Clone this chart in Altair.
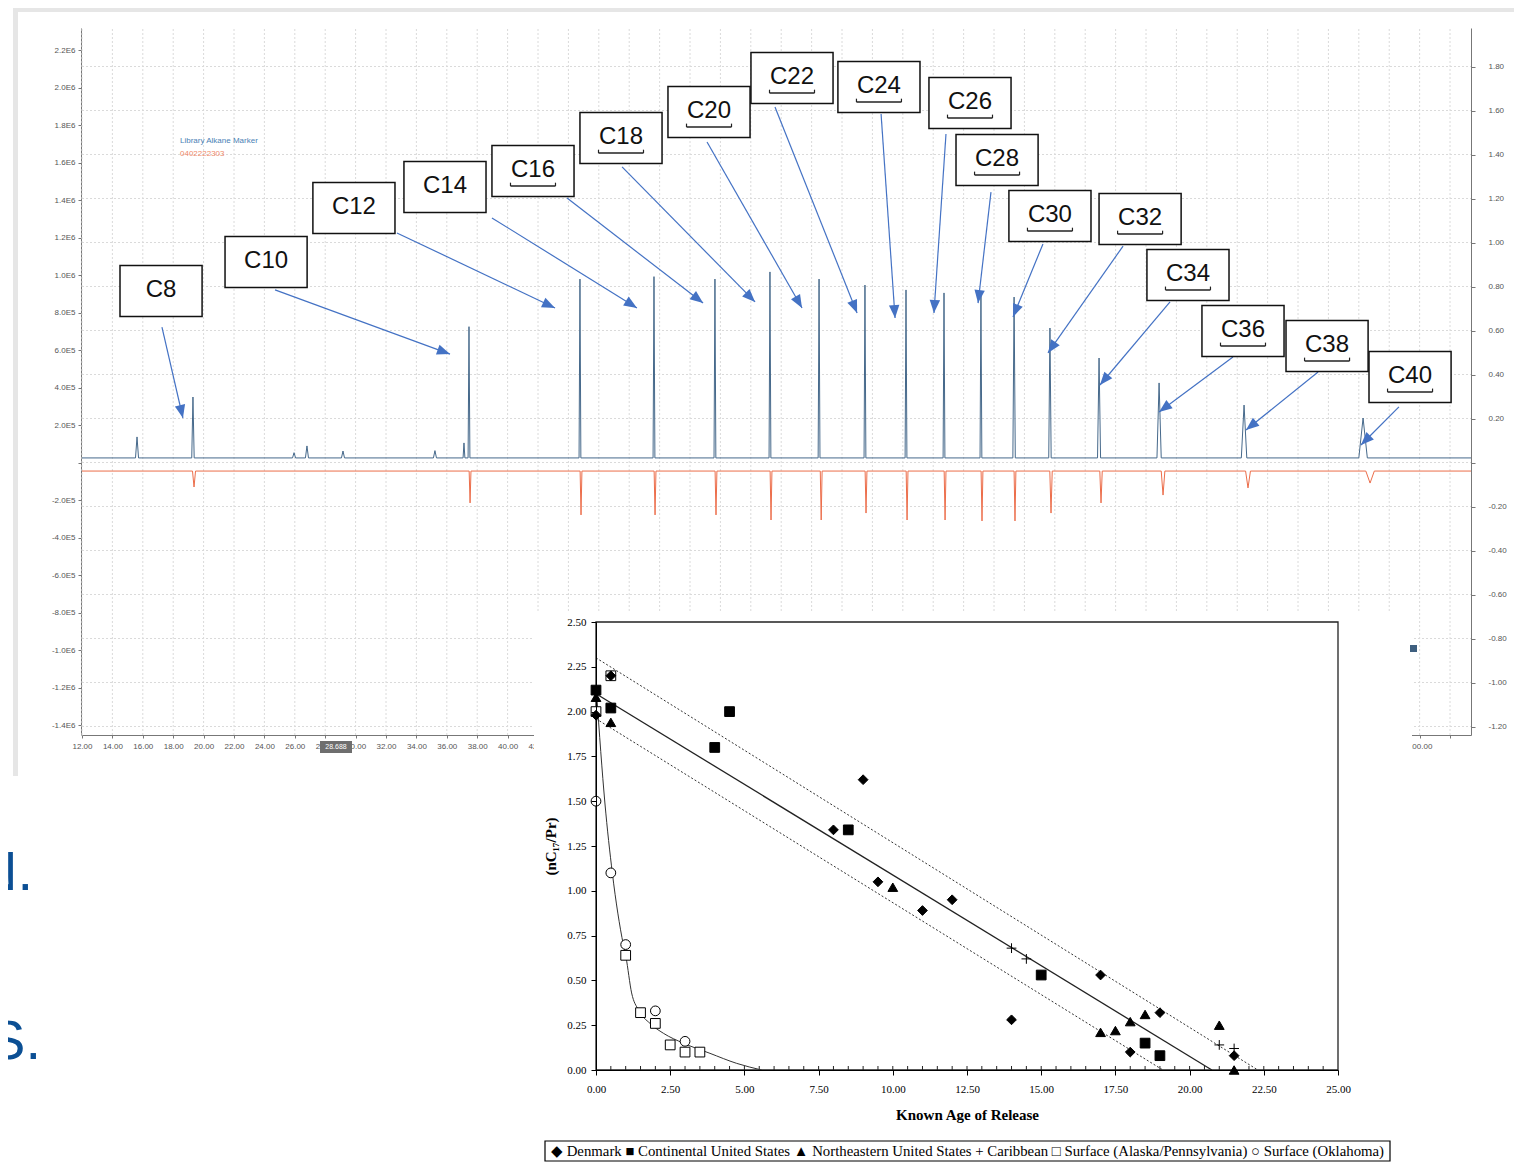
import json
import altair as alt
import pandas as pd

W, H = 1506, 1154

# ---------------- chromatogram (top panel) ----------------
time_ticks = list(range(12, 104, 2))
time_labels = [f"{t:.2f}" if t <= 100 else "" for t in time_ticks]

abund_ticks = [2200000, 2000000, 1800000, 1600000, 1400000, 1200000, 1000000, 800000, 600000,
               400000, 200000, 0, -200000, -400000, -600000, -800000, -1000000, -1200000, -1400000]
abund_labels = ["2.2E6", "2.0E6", "1.8E6", "1.6E6", "1.4E6", "1.2E6", "1.0E6", "8.0E5", "6.0E5",
                "4.0E5", "2.0E5", "", "-2.0E5", "-4.0E5", "-6.0E5", "-8.0E5", "-1.0E6", "-1.2E6", "-1.4E6"]

rel_ticks = [1.8, 1.6, 1.4, 1.2, 1.0, 0.8, 0.6, 0.4, 0.2, 0.0, -0.2, -0.4, -0.6, -0.8, -1.0, -1.2]
rel_labels = ["1.80", "1.60", "1.40", "1.20", "1.00", "0.80", "0.60", "0.40", "0.20", "",
              "-0.20", "-0.40", "-0.60", "-0.80", "-1.00", "-1.20"]

# blue trace (library alkane marker): retention time (min), peak top abundance
blue_t = [15.62, 19.30, 25.95, 26.80, 29.17, 35.22, 37.13, 37.46, 44.76, 49.63, 53.64, 57.26,
          60.49, 63.51, 66.21, 68.71, 71.14, 73.32, 75.68, 78.91, 82.86, 88.45, 96.28]
blue_top = [139e3, 352e3, 55e3, 91e3, 64e3, 66e3, 107e3, 727e3, 981e3, 994e3, 981e3, 1019e3,
            981e3, 949e3, 923e3, 907e3, 912e3, 885e3, 720e3, 560e3, 427e3, 309e3, 240e3]
blue_hw = [0.10, 0.08, 0.10, 0.10, 0.10, 0.10, 0.06, 0.06, 0.06, 0.06, 0.06, 0.06,
           0.06, 0.06, 0.06, 0.06, 0.06, 0.08, 0.08, 0.10, 0.14, 0.18, 0.28]
blue_base = 27e3

# red trace (sample, plotted inverted)
red_t = [19.37, 37.53, 44.83, 49.70, 53.71, 57.33, 60.63, 63.58, 66.28, 68.78, 71.21, 73.38,
         75.75, 79.04, 83.12, 88.71, 96.74]
red_bottom = [-128e3, -213e3, -277e3, -277e3, -277e3, -304e3, -304e3, -267e3, -304e3, -304e3,
              -309e3, -309e3, -267e3, -213e3, -171e3, -133e3, -107e3]
red_hw = [0.10, 0.06, 0.06, 0.06, 0.06, 0.06, 0.06, 0.06, 0.06, 0.06, 0.06, 0.06,
          0.08, 0.08, 0.12, 0.16, 0.28]
red_base = -43e3

# peak annotations (data units: minutes, abundance)
ann_label = ["C8", "C10", "C12", "C14", "C16", "C18", "C20", "C22", "C24", "C26", "C28",
             "C30", "C32", "C34", "C36", "C38", "C40"]
ann_box_t = [17.20, 24.11, 29.89, 35.88, 41.67, 47.46, 53.25, 58.71, 64.43, 70.42, 72.20,
             75.68, 81.61, 84.76, 88.38, 93.91, 99.37]
ann_box_i = [917e3, 1072e3, 1360e3, 1472e3, 1557e3, 1733e3, 1872e3, 2053e3, 2005e3, 1920e3,
             1616e3, 1317e3, 1301e3, 1003e3, 704e3, 624e3, 459e3]
ann_from_t = [17.26, 24.70, 32.72, 38.97, 43.91, 47.53, 53.12, 57.59, 64.57, 68.84, 71.80,
              75.22, 80.49, 83.58, 87.72, 93.32, 98.64]
ann_from_i = [725e3, 923e3, 1227e3, 1307e3, 1413e3, 1579e3, 1712e3, 1899e3, 1861e3, 1755e3,
              1445e3, 1168e3, 1157e3, 859e3, 565e3, 485e3, 299e3]
ann_to_t = [18.64, 36.21, 43.12, 48.51, 52.86, 56.28, 59.37, 62.99, 65.49, 68.05, 70.95,
            73.25, 75.55, 78.97, 82.86, 88.58, 96.14]
ann_to_i = [240e3, 581e3, 827e3, 827e3, 853e3, 859e3, 827e3, 800e3, 773e3, 800e3, 853e3,
            779e3, 587e3, 416e3, 272e3, 176e3, 96e3]
ann_angle = [167, 110, 115, 122, 128, 135, 150, 158, 176, 184, 187, 202, 215, 220, 233, 231, 225]
ann_underline = [0, 0, 0, 0, 1, 1, 1, 1, 1, 1, 1, 1, 1, 1, 1, 1, 1]

# ---------------- scatter (inset) ----------------
sx_ticks = [0, 2.5, 5, 7.5, 10, 12.5, 15, 17.5, 20, 22.5, 25]
sx_labels = ["0.00", "2.50", "5.00", "7.50", "10.00", "12.50", "15.00", "17.50", "20.00", "22.50", "25.00"]
sy_ticks = [0, 0.25, 0.5, 0.75, 1.0, 1.25, 1.5, 1.75, 2.0, 2.25, 2.5]
sy_labels = ["0.00", "0.25", "0.50", "0.75", "1.00", "1.25", "1.50", "1.75", "2.00", "2.25", "2.50"]
sx_minor = [v / 2 for v in range(1, 50)]

series_order = ["Denmark", "Continental United States", "Northeastern United States", "Caribbean",
                "Surface (Alaska/Pennsylvania)", "Surface (Oklahoma)"]
legend_symbols = ["◆", "■", "▲", "+", "□", "○"]
den_x = [0.0, 0.5, 8.0, 9.0, 9.5, 11.0, 12.0, 14.0, 17.0, 18.0, 19.0, 21.5]
den_y = [1.98, 2.20, 1.34, 1.62, 1.05, 0.89, 0.95, 0.28, 0.53, 0.10, 0.32, 0.08]
cus_x = [0.0, 0.5, 4.0, 4.5, 8.5, 15.0, 18.5, 19.0]
cus_y = [2.12, 2.02, 1.80, 2.00, 1.34, 0.53, 0.15, 0.08]
ne_x = [0.0, 0.5, 10.0, 17.0, 17.5, 18.0, 18.5, 21.0, 21.5]
ne_y = [2.08, 1.94, 1.02, 0.21, 0.22, 0.27, 0.31, 0.25, 0.00]
car_x = [14.0, 14.5, 21.0, 21.5]
car_y = [0.68, 0.62, 0.14, 0.12]
sak_x = [0.0, 0.5, 1.0, 1.5, 2.0, 2.5, 3.0, 3.5]
sak_y = [2.00, 2.20, 0.64, 0.32, 0.26, 0.14, 0.10, 0.10]
sok_x = [0.0, 0.5, 1.0, 2.0, 3.0]
sok_y = [1.50, 1.10, 0.70, 0.33, 0.16]

fit_x = [0.0, 20.75]
fit_y = [2.10, 0.0]
upper_x = [0.0, 22.3]
upper_y = [2.30, 0.0]
lower_x = [0.0, 19.1]
lower_y = [1.96, 0.0]
decay_x = [0.02, 0.30, 0.55, 0.92, 1.01, 1.20, 1.43, 1.82, 2.27, 2.94, 3.84, 4.74, 5.58]
decay_y = [2.10, 1.49, 1.10, 0.70, 0.63, 0.43, 0.335, 0.26, 0.205, 0.15, 0.093, 0.037, 0.0]

# ---------------- styling ----------------
ARROW = "#4472C4"
BLUE = "#46698b"
RED = "#ec6d4a"
GRID = "#dadada"
SANS = "Liberation Sans"
SERIF = "Liberation Serif"
shape_range = ["diamond", "square", "triangle-up", "M-1,0L1,0M0,-1L0,1", "square", "circle"]
fill_range = ["black", "black", "black", "black", "white", "white"]
HEAD = "M0,0L-0.8,2L0.8,2Z"


def lab_expr(vals, labs):
    return json.dumps(labs) + "[indexof(" + json.dumps(vals) + ", datum.value)]"


def lin(domain, rng):
    return alt.Scale(domain=domain, range=rng, nice=False, zero=False)


TX = lin([12, 103.38], [74, 1463])
TY = lin([-1450667, 2320000], [727, 20])
RY = lin([-1.2386, 1.975], [727, 20])
SX = lin([0, 25], [588, 1330])
SY = lin([0, 2.5], [1062, 614])

one = pd.DataFrame({"k": [0]})


def trace(ts, peaks, hws, base, t0, t1):
    pts = [(t0, base)]
    for t, p, hw in sorted(zip(ts, peaks, hws)):
        pts += [(t - hw, base), (t, p), (t + hw, base)]
    pts.append((t1, base))
    return pd.DataFrame(pts, columns=["t", "i"])


blue_df = trace(blue_t, blue_top, blue_hw, blue_base, 12.0, 103.38)
red_df = trace(red_t, red_bottom, red_hw, red_base, 12.0, 103.38)

ann_df = pd.DataFrame({
    "label": ann_label, "t": ann_box_t, "i": ann_box_i,
    "t0": ann_from_t, "i0": ann_from_i, "t1": ann_to_t, "i1": ann_to_i,
    "ang": ann_angle, "u": ann_underline,
})

frames = []
for name, xs, ys in [("Surface (Alaska/Pennsylvania)", sak_x, sak_y),
                     ("Surface (Oklahoma)", sok_x, sok_y),
                     ("Caribbean", car_x, car_y),
                     ("Northeastern United States", ne_x, ne_y),
                     ("Continental United States", cus_x, cus_y),
                     ("Denmark", den_x, den_y)]:
    frames.append(pd.DataFrame({"x": xs, "y": ys, "series": name}))
pts_df = pd.concat(frames, ignore_index=True)
pts_df["o"] = range(len(pts_df))

legend_text = " ".join(f"{s} {n}" for s, n in zip(legend_symbols, series_order))

chrom_axis_style = dict(grid=False, title=None, labelFont=SANS, labelFontSize=8, labelColor="#555",
                        domainColor="#777", tickColor="#777", labelOverlap=False, labelFlush=False)

# ---------------- layers ----------------
layers = []

# panel frame strips
layers.append(alt.Chart(one).mark_rect(color="#e6e6e6").encode(
    x=alt.value(5), x2=alt.value(W), y=alt.value(0), y2=alt.value(4)))
layers.append(alt.Chart(one).mark_rect(color="#e6e6e6").encode(
    x=alt.value(5), x2=alt.value(10), y=alt.value(0), y2=alt.value(768)))

# grid
layers.append(alt.Chart(pd.DataFrame({"t": time_ticks})).mark_rule(
    color=GRID, strokeDash=[2, 2], strokeWidth=1).encode(
    x=alt.X("t:Q", scale=TX, axis=None),
    y=alt.YDatum(-1450667, scale=TY, axis=None),
    y2=alt.Y2Datum(2320000)))
layers.append(alt.Chart(pd.DataFrame({"r": rel_ticks})).mark_rule(
    color=GRID, strokeDash=[2, 2], strokeWidth=1).encode(
    y=alt.Y("r:Q", scale=RY, axis=alt.Axis(orient="right", offset=-(W - 1463), values=rel_ticks,
                                            labelExpr=lab_expr(rel_ticks, rel_labels),
                                            tickSize=4, labelPadding=13, **chrom_axis_style)),
    x=alt.XDatum(12, scale=TX, axis=None),
    x2=alt.X2Datum(103.38)))

# traces
layers.append(alt.Chart(red_df).mark_line(color=RED, strokeWidth=1).encode(
    x=alt.X("t:Q", scale=TX, axis=None),
    y=alt.Y("i:Q", scale=TY, axis=None)))
layers.append(alt.Chart(blue_df).mark_line(color=BLUE, strokeWidth=1).encode(
    x=alt.X("t:Q", scale=TX, axis=alt.Axis(orient="bottom", offset=727 - H, values=time_ticks,
                                            labelExpr=lab_expr(time_ticks, time_labels),
                                            tickSize=3, labelPadding=4, **chrom_axis_style)),
    y=alt.Y("i:Q", scale=TY, axis=alt.Axis(orient="left", offset=-73, values=abund_ticks,
                                            labelExpr=lab_expr(abund_ticks, abund_labels),
                                            tickSize=3, labelPadding=3, **chrom_axis_style))))

# trace legend
layers.append(alt.Chart(one).mark_text(text="Library Alkane Marker", font=SANS, fontSize=8,
                                        color="#4a7fb5", align="left", baseline="middle").encode(
    x=alt.value(172), y=alt.value(133)))
layers.append(alt.Chart(one).mark_text(text="0402222303", font=SANS, fontSize=8,
                                        color="#f08a6a", align="left", baseline="middle").encode(
    x=alt.value(172), y=alt.value(146)))

# annotation arrows
layers.append(alt.Chart(ann_df).mark_rule(color=ARROW, strokeWidth=1.2).encode(
    x=alt.X("t0:Q", scale=TX, axis=None), y=alt.Y("i0:Q", scale=TY, axis=None),
    x2="t1:Q", y2="i1:Q"))
layers.append(alt.Chart(ann_df).mark_point(shape=HEAD, filled=True, color=ARROW, size=170,
                                            opacity=1, strokeWidth=0).encode(
    x=alt.X("t1:Q", scale=TX, axis=None), y=alt.Y("i1:Q", scale=TY, axis=None),
    angle=alt.Angle("ang:Q", scale=None)))
# boxes
layers.append(alt.Chart(ann_df).transform_calculate(
    bx0="datum.t - 2.7", bx1="datum.t + 2.7", by0="datum.i - 136000", by1="datum.i + 136000"
).mark_rect(fill="white", stroke="#111", strokeWidth=1.5).encode(
    x=alt.X("bx0:Q", scale=TX, axis=None), x2="bx1:Q",
    y=alt.Y("by0:Q", scale=TY, axis=None), y2="by1:Q"))
layers.append(alt.Chart(ann_df).mark_text(font=SANS, fontSize=24, color="#111", align="center",
                                           baseline="middle", dy=-1).encode(
    x=alt.X("t:Q", scale=TX, axis=None), y=alt.Y("i:Q", scale=TY, axis=None), text="label:N"))
# underlines
und = alt.Chart(ann_df).transform_filter("datum.u == 1").transform_calculate(
    ux0="datum.t - 1.48", ux1="datum.t + 1.48", uy="datum.i - 80000", uy2="datum.i - 62000")
layers.append(und.mark_rule(color="#222", strokeWidth=1.4).encode(
    x=alt.X("ux0:Q", scale=TX, axis=None), x2="ux1:Q",
    y=alt.Y("uy:Q", scale=TY, axis=None)))
layers.append(und.mark_rule(color="#222", strokeWidth=1.2).encode(
    x=alt.X("ux0:Q", scale=TX, axis=None),
    y=alt.Y("uy:Q", scale=TY, axis=None), y2="uy2:Q"))
layers.append(und.mark_rule(color="#222", strokeWidth=1.2).encode(
    x=alt.X("ux1:Q", scale=TX, axis=None),
    y=alt.Y("uy:Q", scale=TY, axis=None), y2="uy2:Q"))

# misc widgets of the chromatogram window
layers.append(alt.Chart(one).mark_rect(color="#6e6e6e").encode(
    x=alt.value(312), x2=alt.value(344), y=alt.value(733), y2=alt.value(745)))
layers.append(alt.Chart(one).mark_text(text="28.688", font=SANS, fontSize=7, color="white",
                                        align="center", baseline="middle").encode(
    x=alt.value(328), y=alt.value(739)))

# white inset area for the scatter plot
layers.append(alt.Chart(one).mark_rect(color="white").encode(
    x=alt.value(526), x2=alt.value(1404), y=alt.value(604), y2=alt.value(H)))
layers.append(alt.Chart(one).mark_rect(color="#3e5f7f").encode(
    x=alt.value(1402), x2=alt.value(1409), y=alt.value(637), y2=alt.value(644)))

# scatter frame
layers.append(alt.Chart(one).mark_rect(fill="transparent", stroke="#222", strokeWidth=1.3).encode(
    x=alt.XDatum(0, scale=SX, axis=None), x2=alt.X2Datum(25),
    y=alt.YDatum(0, scale=SY, axis=None), y2=alt.Y2Datum(2.5)))
# inner minor ticks
layers.append(alt.Chart(pd.DataFrame({"m": sx_minor})).mark_rule(
    color="#222", strokeWidth=1, y2Offset=-4).encode(
    x=alt.X("m:Q", scale=SX, axis=None),
    y=alt.YDatum(0, scale=SY, axis=None), y2=alt.Y2Datum(0)))

# fitted lines
layers.append(alt.Chart(pd.DataFrame({"x": fit_x, "y": fit_y})).mark_line(
    color="#222", strokeWidth=1.3).encode(
    x=alt.X("x:Q", scale=SX, axis=None), y=alt.Y("y:Q", scale=SY, axis=None)))
for xs, ys in [(upper_x, upper_y), (lower_x, lower_y)]:
    layers.append(alt.Chart(pd.DataFrame({"x": xs, "y": ys})).mark_line(
        color="#333", strokeWidth=1, strokeDash=[2, 2]).encode(
        x=alt.X("x:Q", scale=SX, axis=None), y=alt.Y("y:Q", scale=SY, axis=None)))
layers.append(alt.Chart(pd.DataFrame({"x": decay_x, "y": decay_y})).mark_line(
    color="#333", strokeWidth=1, interpolate="monotone").encode(
    x=alt.X("x:Q", scale=SX, axis=None), y=alt.Y("y:Q", scale=SY, axis=None)))

serif_axis = dict(grid=False, labelFont=SERIF, labelFontSize=11, labelColor="black",
                  tickColor="black", domainColor="black", tickSize=5, labelFlush=False,
                  labelOverlap=False, titleFont=SERIF, titleFontSize=15, titleFontWeight="bold",
                  titleColor="black", zindex=1)
layers.append(alt.Chart(pts_df).mark_point(filled=True, size=95, stroke="black", strokeWidth=1,
                                            opacity=1).encode(
    x=alt.X("x:Q", scale=SX, axis=alt.Axis(orient="bottom", offset=1062 - H, values=sx_ticks,
                                            labelExpr=lab_expr(sx_ticks, sx_labels),
                                            title="Known Age of Release", labelPadding=8,
                                            titlePadding=13, **serif_axis)),
    y=alt.Y("y:Q", scale=SY, axis=alt.Axis(orient="left", offset=-588, values=sy_ticks,
                                            labelExpr=lab_expr(sy_ticks, sy_labels),
                                            title="(nC₁₇/Pr)", labelPadding=5,
                                            titlePadding=8, **serif_axis)),
    shape=alt.Shape("series:N", scale=alt.Scale(domain=series_order, range=shape_range), legend=None),
    fill=alt.Fill("series:N", scale=alt.Scale(domain=series_order, range=fill_range), legend=None),
    order=alt.Order("o:Q")))

# legend box (one line, as in the original figure)
layers.append(alt.Chart(one).mark_rect(fill="white", stroke="black", strokeWidth=1.2).encode(
    x=alt.value(537), x2=alt.value(1382), y=alt.value(1133), y2=alt.value(1153)))
layers.append(alt.Chart(one).mark_text(text=legend_text, font=SERIF, fontSize=14.8, color="black",
                                        align="center", baseline="middle").encode(
    x=alt.value(959.5), y=alt.value(1143.5)))

# slide text fragments at the left edge
layers.append(alt.Chart(one).mark_text(text="N.", font=SANS, fontSize=56, color="#0b4f94",
                                        align="right", baseline="alphabetic").encode(
    x=alt.value(25), y=alt.value(882)))
layers.append(alt.Chart(one).mark_text(text="S.", font=SANS, fontSize=56, color="#0b4f94",
                                        align="right", baseline="alphabetic").encode(
    x=alt.value(33), y=alt.value(1051)))

chart = alt.layer(*layers).resolve_scale(
    x="independent", y="independent", shape="independent", fill="independent", angle="independent"
).resolve_axis(x="independent", y="independent").properties(
    width=W, height=H, autosize=alt.AutoSizeParams(type="none"), padding=0
).configure_view(strokeWidth=0)

chart.save("out.html", embed_options={"renderer": "svg", "actions": False})
